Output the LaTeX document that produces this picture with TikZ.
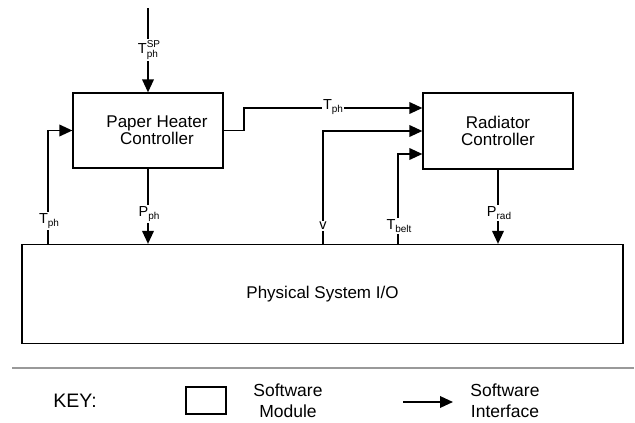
\documentclass[tikz,border=0pt]{standalone}
\usepackage{fontspec}
\setmainfont{Liberation Sans}
\usetikzlibrary{arrows.meta}
\newcommand{\lsub}[1]{\raisebox{-3.5pt}{\fontsize{10}{10}\selectfont #1}}
\newcommand{\lsubsup}[2]{\raisebox{-3.5pt}{\rlap{\fontsize{10}{10}\selectfont #1}}\raisebox{6.5pt}{\fontsize{10}{10}\selectfont #2}}
\begin{document}
\begin{tikzpicture}[x=1pt,y=-1pt,
  module/.style={draw, line width=1.2pt, inner sep=0pt, align=center, font=\fontsize{17}{17}\selectfont},
  sig/.style={line width=1.9pt, -{Triangle[length=13pt,width=11.5pt]}},
  lab/.style={fill=white, inner sep=1pt, font=\fontsize{14.5}{14.5}\selectfont},
  keytext/.style={align=center, font=\fontsize{17.5}{21}\selectfont}]
\useasboundingbox (0,0) rectangle (635,423);

% modules
\node[module, minimum width=150pt, minimum height=75pt] (phc) at (148,130.5) {};
\node[font=\fontsize{17}{17}\selectfont, align=center] (phctext) at (157,130) {Paper Heater\\Controller};
\node[module, minimum width=150pt, minimum height=76pt] (rc) at (498,131) {Radiator\\Controller};
\node[module, minimum width=601pt, minimum height=99pt] (phys) at (322.5,294) {Physical System I/O};

% free ends
\coordinate (top) at (148,8);
\coordinate (tphA) at (48,244.5);
\coordinate (vA) at (323,244.5);
\coordinate (tbA) at (398,244.5);

% connectors
\draw[sig] (top) -- (phc.north);
\draw[sig] (phc.south) -- (phc.south |- phys.north);
\draw[sig] (tphA) |- (phc.west);
\draw[sig] (phc.east) -- ++(20,0) |- ([yshift=23pt]rc.west);
\draw[sig] (vA) |- (rc.west);
\draw[sig] (tbA) |- ([yshift=-23pt]rc.west);
\draw[sig] (rc.south) -- (rc.south |- phys.north);

% labels
\node[lab] (lsp) at (149,50) {T\lsubsup{ph}{SP}};
\node[lab] (lpph) at (149,214) {P\lsub{ph}};
\node[lab] (ltph1) at (49,221) {T\lsub{ph}};
\node[lab] (ltph2) at (333,107) {T\lsub{ph}};
\node[lab] (lv) at (323,226) {v};
\node[lab] (ltb) at (399,226) {T\lsub{belt}};
\node[lab] (lprad) at (499,213) {P\lsub{rad}};

% separator
\coordinate (sepL) at (12,368);
\coordinate (sepR) at (634,368);
\draw[gray!80, line width=2pt] (sepL) -- (sepR);

% key
\node[font=\fontsize{19.5}{19.5}\selectfont] (key) at (75,401) {KEY:};
\node[draw, line width=1.2pt, minimum width=40pt, minimum height=27pt, inner sep=0pt] (kbox) at (206,400.5) {};
\node[keytext] (kmod) at (288,401) {Software\\Module};
\coordinate (karA) at (403,402);
\coordinate (karB) at (453,402);
\draw[sig] (karA) -- (karB);
\node[keytext] (kint) at (505,401) {Software\\Interface};
\end{tikzpicture}
\end{document}
